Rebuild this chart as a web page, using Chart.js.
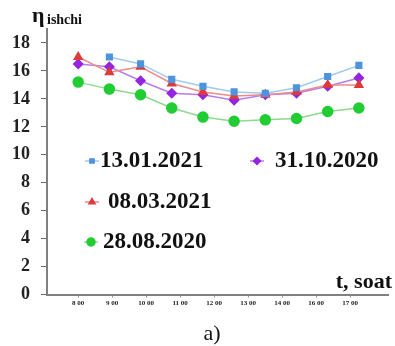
<!DOCTYPE html>
<html>
<head>
<meta charset="utf-8">
<script src="https://cdn.jsdelivr.net/npm/chart.js@4.4.1/dist/chart.umd.min.js"></script>
<style>
  html, body { margin: 0; padding: 0; background: #fff; }
  #wrap { width: 395px; height: 346px; }
</style>
</head>
<body>
<div id="wrap"><canvas id="effChart"></canvas></div>
<script>
// tick labels on the time axis (as printed)
const timeLabels = ['8 00', '9 00', '10 00', '11 00', '12 00', '13 00', '14 00', '16 00', '17 00'];
const yTicks = [0, 2, 4, 6, 8, 10, 12, 14, 16, 18];

// measurements (10 samples per day)
const dateLabels = ['13.01.2021', '08.03.2021', '28.08.2020', '31.10.2020'];
const seriesJan = [null, 17.0, 16.5, 15.4, 14.9, 14.5, 14.4, 14.8, 15.6, 16.4];
const seriesMar = [17.0, 15.9, 16.3, 15.1, 14.5, 14.2, 14.3, 14.5, 15.0, 15.0];
const seriesAug = [15.2, 14.7, 14.3, 13.35, 12.7, 12.4, 12.5, 12.6, 13.1, 13.35];
const seriesOct = [16.5, 16.3, 15.3, 14.4, 14.3, 13.9, 14.3, 14.4, 14.9, 15.5];

const serif = '"Liberation Serif", "Times New Roman", serif';
const labelStep = 1.09; // spacing of the printed time labels vs. samples

function toPoints(arr) {
    return arr.map((v, i) => ({ x: i, y: v }));
}

// legend inside the plot + axis captions
const insideLegend = {
    id: 'insideLegend',
    afterDraw(chart, args, opts) {
        const ctx = chart.ctx;
        ctx.save();
        ctx.textBaseline = 'middle';
        opts.items.forEach(it => {
            const ds = chart.data.datasets[it.ds];
            ctx.strokeStyle = ds.borderColor;
            ctx.lineWidth = 1.5;
            ctx.beginPath();
            ctx.moveTo(it.x - 7, it.y);
            ctx.lineTo(it.x + 7, it.y);
            ctx.stroke();
            ctx.fillStyle = ds.pointBackgroundColor;
            ctx.strokeStyle = ds.pointBorderColor;
            Chart.helpers.drawPoint(ctx, { pointStyle: ds.pointStyle, radius: ds.pointRadius - 1, borderWidth: 1 }, it.x, it.y);
            ctx.fillStyle = '#111';
            ctx.font = 'bold 23px ' + serif;
            ctx.textAlign = 'left';
            ctx.fillText(ds.label, it.tx, it.y);
        });

        // y caption: eta + subscript
        ctx.fillStyle = '#111';
        ctx.textBaseline = 'alphabetic';
        ctx.font = 'bold 22px ' + serif;
        ctx.fillText('η', 32, 22);
        ctx.font = 'bold 14px ' + serif;
        ctx.fillText('ishchi', 47, 24);

        // x caption
        ctx.font = 'bold 22px ' + serif;
        ctx.textAlign = 'right';
        ctx.fillText('t, soat', 392, 288);

        // panel mark
        ctx.font = '22px ' + serif;
        ctx.textAlign = 'center';
        ctx.fillText('a)', 212, 340);
        ctx.restore();
    }
};

const ctx = document.getElementById('effChart').getContext('2d');
const effChart = new Chart(ctx, {
    type: 'line',
    data: {
        datasets: [{
            label: dateLabels[0],
            data: toPoints(seriesJan),
            borderColor: '#9fcbef',
            pointBackgroundColor: '#4d94dc',
            pointBorderColor: '#4d94dc',
            pointStyle: 'rect',
            pointRadius: 4,
            borderWidth: 1.5
        }, {
            label: dateLabels[1],
            data: toPoints(seriesMar),
            borderColor: '#ee8a8a',
            pointBackgroundColor: '#dc3b3b',
            pointBorderColor: '#dc3b3b',
            pointStyle: 'triangle',
            pointRadius: 4.5,
            borderWidth: 1.5
        }, {
            label: dateLabels[2],
            data: toPoints(seriesAug),
            borderColor: '#8fd88f',
            pointBackgroundColor: '#22cc33',
            pointBorderColor: '#22cc33',
            pointStyle: 'circle',
            pointRadius: 5,
            borderWidth: 1.5
        }, {
            label: dateLabels[3],
            data: toPoints(seriesOct),
            borderColor: '#b77de8',
            pointBackgroundColor: '#9425e0',
            pointBorderColor: '#9425e0',
            pointStyle: 'rectRot',
            pointRadius: 4.5,
            borderWidth: 1.5
        }]
    },
    options: {
        responsive: true,
        maintainAspectRatio: false,
        animation: false,
        layout: { padding: { top: 29, left: 1, right: 3, bottom: 38 } },
        plugins: {
            legend: { display: false },
            tooltip: { enabled: false },
            insideLegend: {
                items: [
                    { ds: 0, x: 92, y: 161, tx: 100 },
                    { ds: 1, x: 92, y: 202, tx: 108 },
                    { ds: 2, x: 91, y: 242, tx: 103 },
                    { ds: 3, x: 257, y: 161, tx: 275 }
                ]
            }
        },
        scales: {
            x: {
                type: 'linear',
                min: -1,
                max: 9.95,
                afterBuildTicks: axis => {
                    axis.ticks = timeLabels.map((t, i) => ({ value: i * labelStep }));
                },
                ticks: {
                    autoSkip: false,
                    maxRotation: 0,
                    padding: 1,
                    color: '#222',
                    font: { family: serif, size: 7, weight: 'bold' },
                    callback: (v, i) => timeLabels[i]
                },
                grid: { drawOnChartArea: false, tickLength: 3, color: '#999' },
                border: { color: '#808080', width: 2 }
            },
            y: {
                min: 0,
                max: 19,
                afterBuildTicks: axis => {
                    axis.ticks = yTicks.map(v => ({ value: v }));
                },
                ticks: {
                    padding: 11,
                    color: '#222',
                    font: { family: serif, size: 18, weight: 'bold' }
                },
                grid: { drawOnChartArea: false, tickLength: 6, color: '#666' },
                border: { color: '#808080', width: 2 }
            }
        }
    },
    plugins: [insideLegend]
});
</script>
</body>
</html>
